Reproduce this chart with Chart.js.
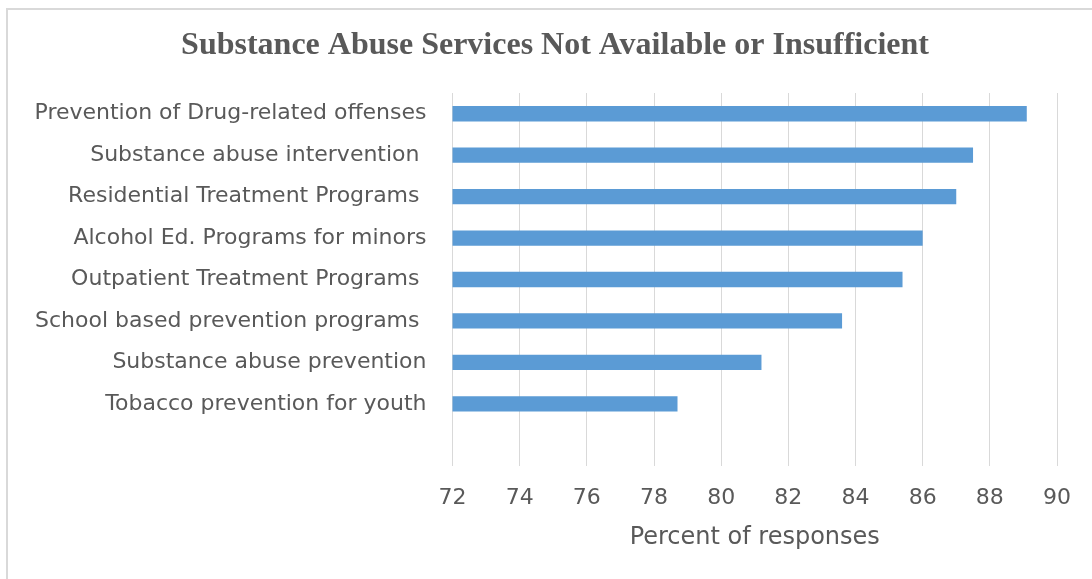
<!DOCTYPE html>
<html>
<head>
<meta charset="utf-8">
<script src="https://cdn.jsdelivr.net/npm/chart.js@4/dist/chart.umd.min.js"></script>
<style>
  html, body { margin: 0; padding: 0; background: #fff; overflow: hidden; }
  .frame {
    position: absolute;
    left: 6px;
    top: 8px;
    border: 2px solid #d9d9d9;
    width: 1094px;
    height: 575px;
  }
  canvas { display: block; }
</style>
</head>
<body>
<div class="frame"><canvas id="chart" width="1094" height="575"></canvas></div>
<script>
const TITLE = "Substance Abuse Services Not Available or Insufficient";
const AXIS_TITLE = "Percent of responses";

// top to bottom; the last row is left blank on purpose
const services = [
  "Prevention of Drug-related offenses",
  "Substance abuse intervention ",
  "Residential Treatment Programs ",
  "Alcohol Ed. Programs for minors",
  "Outpatient Treatment Programs ",
  "School based prevention programs ",
  "Substance abuse prevention",
  "Tobacco prevention for youth",
  "",
];
const percent = [89.1, 87.5, 87.0, 86.0, 85.4, 83.6, 81.2, 78.7, null];

const X_MIN = 72;
const X_MAX = 90;
const X_STEP = 2;

const TEXT = "#595959";
const BAR = "#5b9bd5";
const GRID = "#d9d9d9";
const SANS = "'DejaVu Sans', sans-serif";

// title drawn centred on the whole frame rather than on the chart box
const frameTitle = {
  id: "frameTitle",
  afterDraw(chart) {
    const { ctx } = chart;
    ctx.save();
    ctx.font = "bold 32px 'Liberation Serif', 'Times New Roman', serif";
    ctx.fillStyle = TEXT;
    ctx.textAlign = "center";
    ctx.textBaseline = "alphabetic";
    ctx.fillText(TITLE, chart.width / 2, 44);
    ctx.restore();
  },
};

new Chart(document.getElementById("chart"), {
  type: "bar",
  data: {
    labels: services,
    datasets: [{
      data: percent,
      backgroundColor: BAR,
      borderWidth: 0,
      categoryPercentage: 1,
      barPercentage: 0.37,
    }],
  },
  options: {
    indexAxis: "y",
    responsive: false,
    animation: false,
    layout: { padding: { top: 83, right: 45, bottom: 0, left: 0 } },
    plugins: {
      legend: { display: false },
      tooltip: { enabled: false },
    },
    scales: {
      x: {
        min: X_MIN,
        max: X_MAX,
        ticks: {
          stepSize: X_STEP,
          color: TEXT,
          font: { family: SANS, size: 22 },
          padding: 19,
        },
        grid: { color: GRID, lineWidth: 1, drawTicks: false },
        border: { display: false },
        title: {
          display: true,
          text: AXIS_TITLE,
          color: TEXT,
          font: { family: SANS, size: 24 },
          padding: { top: 0, bottom: 33 },
        },
        afterFit(scale) { scale.height = 119; },
      },
      y: {
        ticks: {
          color: TEXT,
          font: { family: SANS, size: 22 },
          padding: 18,
        },
        grid: { display: false },
        border: { display: false },
        afterFit(scale) { scale.width = 444.5; },
      },
    },
  },
  plugins: [frameTitle],
});
</script>
</body>
</html>
